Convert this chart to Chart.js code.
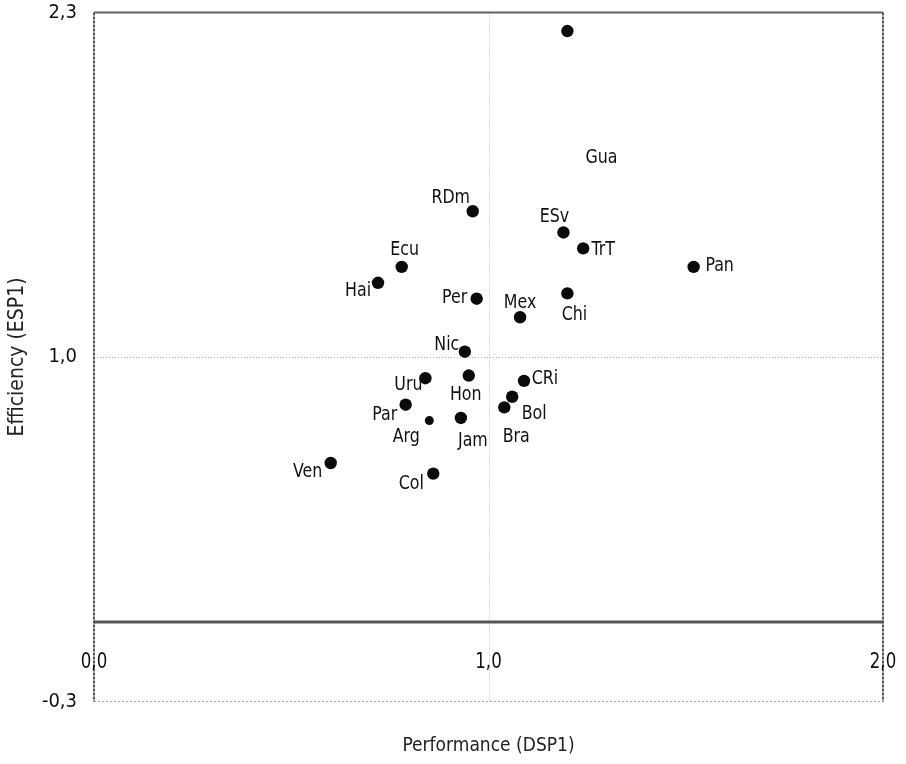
<!DOCTYPE html>
<html>
<head>
<meta charset="utf-8">
<script src="https://cdn.jsdelivr.net/npm/chart.js@4/dist/chart.umd.min.js"></script>
<style>
  html, body { margin: 0; padding: 0; background: #ffffff; }
  #wrap { width: 906px; height: 764px; }
</style>
</head>
<body>
<div id="wrap"><canvas id="c" width="906" height="764"></canvas></div>
<script>
// ---- data ----
const countries   = ['Gua','RDm','ESv','TrT','Ecu','Pan','Hai','Chi','Per','Mex','Nic','Uru','Hon','CRi','Bol','Bra','Par','Arg','Jam','Ven','Col'];
const performance = [1.20, 0.96, 1.19, 1.24, 0.78, 1.52, 0.72, 1.20, 0.97, 1.08, 0.94, 0.84, 0.95, 1.09, 1.06, 1.04, 0.79, 0.85, 0.93, 0.60, 0.86];
const efficiency  = [2.23, 1.55, 1.47, 1.41, 1.34, 1.34, 1.28, 1.24, 1.22, 1.15, 1.02, 0.92, 0.93, 0.91, 0.85, 0.81, 0.82, 0.76, 0.77, 0.60, 0.56];
const xTickValues = [0, 1, 2];
const yTickValues = [-0.3, 1.0, 2.3];
const xTitle = 'Performance (DSP1)';
const yTitle = 'Efficiency (ESP1)';

// ---- label placement (pixel offsets from each dot) ----
const labelOffsets = {
  Gua:[34,127], RDm:[-22,-13], ESv:[-9,-16], TrT:[20,1], Ecu:[3,-17], Pan:[26,-1],
  Hai:[-20,8], Chi:[7,21], Per:[-22,-1], Mex:[0,-14], Nic:[-18,-7], Uru:[-17,7],
  Hon:[-3,19], CRi:[21,-2], Bol:[22,17], Bra:[12,29], Par:[-21,10], Arg:[-23,16],
  Jam:[12,23], Ven:[-23,9], Col:[-22,10]
};

const FONT = "'DejaVu Sans Condensed', 'DejaVu Sans', sans-serif";
const fmt = v => v.toFixed(1).replace('.', ',');

const points = performance.map((x, i) => ({ x: x, y: efficiency[i] }));

// draw centred text slightly narrowed, like the condensed face of the original
function narrowText(ctx, text, cx, cy, squeeze) {
  ctx.save();
  ctx.translate(cx, cy);
  ctx.scale(squeeze, 1);
  ctx.fillText(text, 0, 0);
  ctx.restore();
}

const framePlugin = {
  id: 'frame',
  beforeDatasetsDraw(chart) {
    const { ctx, chartArea: a, scales: { x, y } } = chart;
    ctx.save();
    // dotted reference lines at 1,0
    ctx.strokeStyle = '#b5b5b5';
    ctx.lineWidth = 1;
    ctx.setLineDash([1, 2]);
    const x1 = Math.round(x.getPixelForValue(1)) + 0.5;
    const y1 = Math.round(y.getPixelForValue(1)) + 0.5;
    ctx.beginPath(); ctx.moveTo(x1, a.top); ctx.lineTo(x1, a.bottom); ctx.stroke();
    ctx.beginPath(); ctx.moveTo(a.left, y1); ctx.lineTo(a.right, y1); ctx.stroke();
    // bottom border (light dotted)
    ctx.strokeStyle = '#a8a8a8';
    ctx.setLineDash([2, 2]);
    ctx.beginPath(); ctx.moveTo(a.left, a.bottom); ctx.lineTo(a.right, a.bottom); ctx.stroke();
    // left & right borders (dark dotted)
    ctx.strokeStyle = '#555';
    ctx.lineWidth = 2;
    ctx.setLineDash([3, 1]);
    ctx.beginPath(); ctx.moveTo(a.left, a.top); ctx.lineTo(a.left, a.bottom); ctx.stroke();
    ctx.beginPath(); ctx.moveTo(a.right, a.top); ctx.lineTo(a.right, a.bottom); ctx.stroke();
    // top border solid
    ctx.setLineDash([]);
    ctx.strokeStyle = '#606060';
    ctx.beginPath(); ctx.moveTo(a.left, a.top); ctx.lineTo(a.right, a.top); ctx.stroke();
    // zero line
    const y0 = y.getPixelForValue(0);
    ctx.strokeStyle = '#555';
    ctx.lineWidth = 3;
    ctx.beginPath(); ctx.moveTo(a.left, y0); ctx.lineTo(a.right, y0); ctx.stroke();
    ctx.restore();
  }
};

const labelPlugin = {
  id: 'pointLabels',
  afterDatasetsDraw(chart) {
    const { ctx, chartArea: a, scales: { x } } = chart;
    ctx.save();
    ctx.fillStyle = '#111';
    ctx.textAlign = 'center';
    ctx.textBaseline = 'middle';
    // x-axis tick labels, drawn inside the plot frame like the original
    ctx.font = '21px ' + FONT;
    x.ticks.forEach(t => {
      narrowText(ctx, fmt(t.value), x.getPixelForValue(t.value), a.bottom - 39, 0.88);
    });
    // point labels
    const meta = chart.getDatasetMeta(0);
    ctx.font = '20px ' + FONT;
    meta.data.forEach((el, i) => {
      const name = countries[i];
      const off = labelOffsets[name] || [0, -14];
      narrowText(ctx, name, el.x + off[0], el.y + off[1], 0.88);
    });
    ctx.restore();
  }
};

new Chart(document.getElementById('c'), {
  type: 'scatter',
  data: {
    datasets: [{
      data: points,
      backgroundColor: '#0a0a0a',
      borderColor: '#0a0a0a',
      borderWidth: 0,
      pointRadius: ctx => (countries[ctx.dataIndex] === 'Arg' ? 4.5 : 6.2),
      pointHoverRadius: ctx => (countries[ctx.dataIndex] === 'Arg' ? 4.5 : 6.2)
    }]
  },
  options: {
    responsive: false,
    animation: false,
    events: [],
    layout: { padding: { top: 12.5, right: 23, bottom: 0, left: 0 } },
    plugins: { legend: { display: false }, tooltip: { enabled: false } },
    scales: {
      x: {
        type: 'linear',
        min: 0, max: 2,
        afterBuildTicks: s => { s.ticks = xTickValues.map(v => ({ value: v })); },
        afterFit: s => { s.height = 62.5; s.paddingLeft = 0; s.paddingRight = 0; },
        grid: { display: false, drawTicks: false },
        border: { display: false },
        ticks: { display: false },
        title: {
          display: true, text: xTitle, color: '#222',
          font: { family: FONT, size: 19, lineHeight: 1 },
          padding: { top: 0, bottom: 8.5 }
        }
      },
      y: {
        type: 'linear',
        min: -0.3, max: 2.3,
        afterBuildTicks: s => { s.ticks = yTickValues.map(v => ({ value: v })); },
        afterFit: s => { s.width = 94; s.paddingTop = 0; s.paddingBottom = 0; },
        grid: { display: false, drawTicks: false },
        border: { display: false },
        ticks: {
          autoSkip: false,
          padding: 17,
          color: '#111',
          font: { family: FONT, size: 20 },
          callback: v => fmt(v)
        },
        title: {
          display: true, text: yTitle, color: '#222',
          font: { family: FONT, size: 21, lineHeight: 1 },
          padding: { top: 7.5, bottom: 0 }
        }
      }
    }
  },
  plugins: [framePlugin, labelPlugin]
});
</script>
</body>
</html>
